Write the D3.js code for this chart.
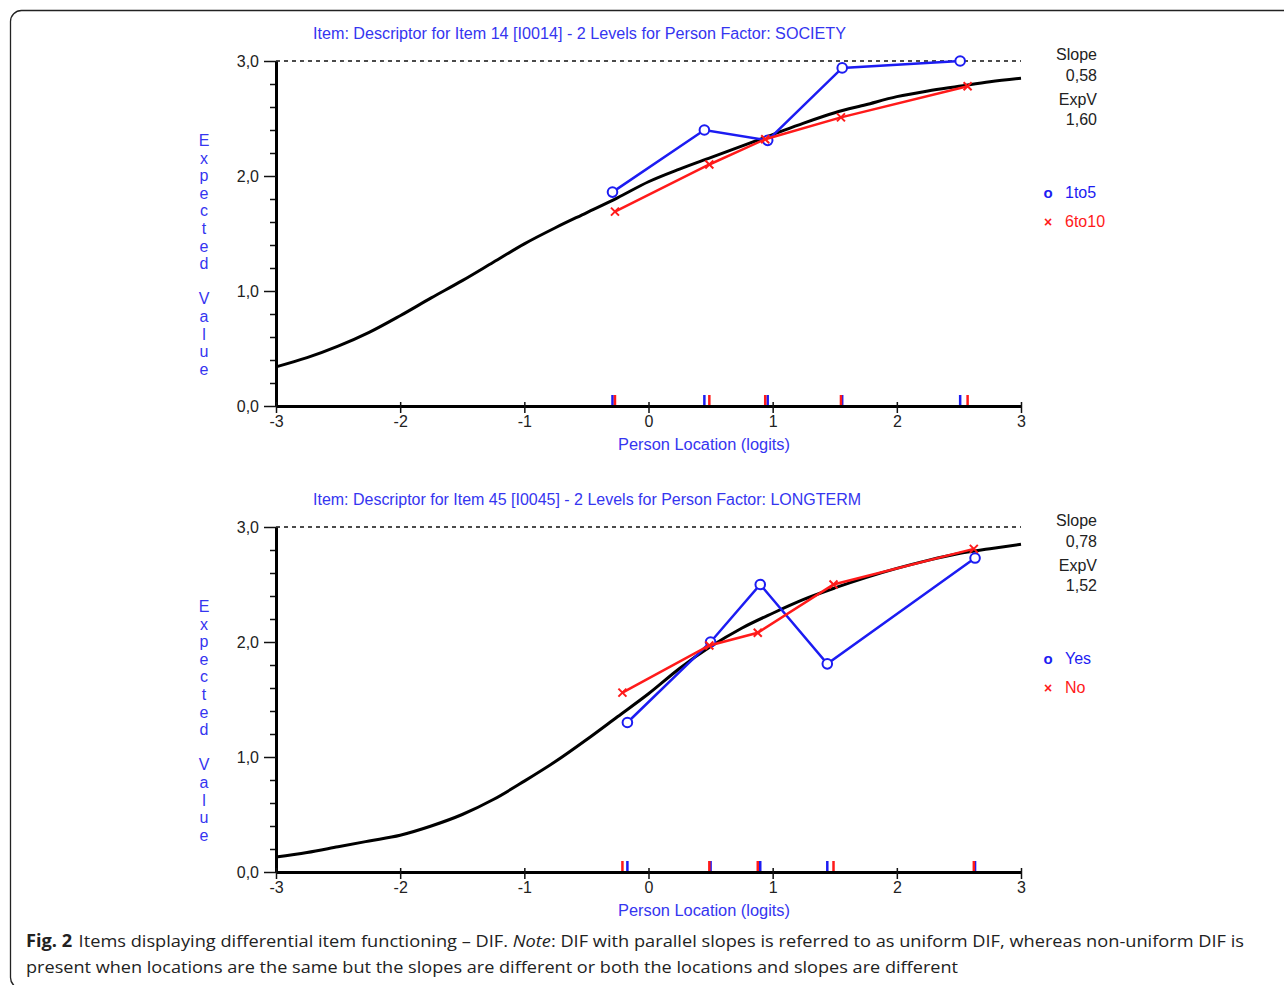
<!DOCTYPE html>
<html>
<head>
  <meta charset="utf-8">
  <title>DIF item plots</title>
  <style>
    body { margin: 0; background: #fff; }
    svg { display: block; }
    .chart text { font-family: "Liberation Sans Narrow", "Liberation Sans", Arial, sans-serif; }
  </style>
</head>
<body>
  <svg width="1284" height="985"></svg>
  <script src="https://d3js.org/d3.v7.min.js"></script>
  <script>
    // ---- data ----
    const xTicks = [-3, -2, -1, 0, 1, 2, 3];
    const yTicks = [0, 1, 2, 3];
    const yTickLabels = ["0,0", "1,0", "2,0", "3,0"];
    const yMinor = [0.2, 0.4, 0.6, 0.8, 1.2, 1.4, 1.6, 1.8, 2.2, 2.4, 2.6, 2.8];

    // expected-value curve, sampled every 0.25 logit
    const iccTheta = [-3, -2.75, -2.5, -2.25, -2, -1.75, -1.5, -1.25, -1, -0.75, -0.5, -0.25, 0,
                      0.25, 0.5, 0.75, 1, 1.25, 1.5, 1.75, 2, 2.25, 2.5, 2.75, 3];
    const icc14 = [0.34, 0.42, 0.52, 0.64, 0.785, 0.94, 1.09, 1.25, 1.41, 1.55, 1.68, 1.81, 1.95,
                   2.06, 2.16, 2.26, 2.36, 2.46, 2.55, 2.62, 2.69, 2.74, 2.78, 2.82, 2.85];
    const icc45 = [0.13, 0.17, 0.22, 0.27, 0.32, 0.40, 0.50, 0.63, 0.79, 0.96, 1.15, 1.35, 1.55,
                   1.77, 1.96, 2.12, 2.25, 2.37, 2.47, 2.56, 2.64, 2.71, 2.77, 2.81, 2.85];

    // item 14, factor SOCIETY
    const soc1to5Loc = [-0.29, 0.45, 0.96, 1.56, 2.51];
    const soc1to5Val = [1.86, 2.40, 2.31, 2.94, 3.00];
    const soc6to10Loc = [-0.27, 0.49, 0.94, 1.55, 2.57];
    const soc6to10Val = [1.69, 2.10, 2.32, 2.51, 2.78];

    // item 45, factor LONGTERM
    const ltYesLoc = [-0.17, 0.50, 0.90, 1.44, 2.63];
    const ltYesVal = [1.30, 2.00, 2.50, 1.81, 2.73];
    const ltNoLoc = [-0.21, 0.49, 0.88, 1.49, 2.62];
    const ltNoVal = [1.56, 1.97, 2.08, 2.50, 2.81];

    const panels = [
      { top: 61, title: "Item: Descriptor for Item 14 [I0014] - 2 Levels for Person Factor: SOCIETY",
        titleLen: 533, icc: icc14, slope: "0,58", expv: "1,60",
        groups: [
          { name: "1to5", loc: soc1to5Loc, val: soc1to5Val, color: "#1c1cf2", sym: "o" },
          { name: "6to10", loc: soc6to10Loc, val: soc6to10Val, color: "#ff1a1a", sym: "x" }
        ] },
      { top: 527, title: "Item: Descriptor for Item 45 [I0045] - 2 Levels for Person Factor: LONGTERM",
        titleLen: 548, icc: icc45, slope: "0,78", expv: "1,52",
        groups: [
          { name: "Yes", loc: ltYesLoc, val: ltYesVal, color: "#1c1cf2", sym: "o" },
          { name: "No", loc: ltNoLoc, val: ltNoVal, color: "#ff1a1a", sym: "x" }
        ] }
    ];

    const svg = d3.select("svg");
    const textBlue = "#3535f0";
    const chartFont = "\"Liberation Sans Narrow\", \"Liberation Sans\", Arial, sans-serif";

    // frame around the figure
    svg.append("rect")
      .attr("x", 10.5).attr("y", 10.5)
      .attr("width", 1300).attr("height", 978)
      .attr("rx", 11)
      .attr("fill", "none").attr("stroke", "#222").attr("stroke-width", 1.3);

    const x = d3.scaleLinear().domain([-3, 3]).range([276, 1021]);

    panels.forEach(p => {
      const g = svg.append("g").attr("class", "chart");
      const y = d3.scaleLinear().domain([0, 3]).range([p.top + 345, p.top]);
      const y0 = y(0);

      // title
      g.append("text")
        .attr("x", 313).attr("y", p.top - 22)
        .attr("textLength", p.titleLen).attr("lengthAdjust", "spacingAndGlyphs")
        .attr("font-size", 16).attr("fill", textBlue)
        .text(p.title);

      // dashed line at max score
      g.append("line")
        .attr("x1", x(-3)).attr("x2", x(3))
        .attr("y1", y(3)).attr("y2", y(3))
        .attr("stroke", "#111").attr("stroke-width", 1.5)
        .attr("stroke-dasharray", "4,4");

      // minor y ticks
      g.append("g")
        .attr("transform", `translate(${x(-3)},0)`)
        .call(d3.axisLeft(y).tickValues(yMinor).tickSize(6).tickFormat(""))
        .call(a => a.select(".domain").remove())
        .call(a => a.selectAll("line").attr("stroke", "#111").attr("stroke-width", 1.5));

      // major y axis
      g.append("g")
        .attr("transform", `translate(${x(-3)},0)`)
        .call(d3.axisLeft(y).tickValues(yTicks).tickSizeInner(12).tickSizeOuter(0).tickPadding(5)
          .tickFormat((d, i) => yTickLabels[i]))
        .call(a => a.select(".domain").attr("stroke", "#000").attr("stroke-width", 3))
        .call(a => a.selectAll("line").attr("stroke", "#111").attr("stroke-width", 1.5))
        .call(a => a.selectAll("text").attr("font-size", 16).attr("fill", "#222")
          .attr("font-family", chartFont));

      // x axis
      g.append("g")
        .attr("transform", `translate(0,${y0})`)
        .call(d3.axisBottom(x).tickValues(xTicks).tickSizeInner(7).tickSizeOuter(0).tickPadding(3)
          .tickFormat(d => String(d)))
        .call(a => a.select(".domain").attr("stroke", "#000").attr("stroke-width", 3))
        .call(a => a.selectAll(".tick line").attr("y1", -4).attr("stroke", "#111").attr("stroke-width", 1.5))
        .call(a => a.selectAll("text").attr("font-size", 16).attr("fill", "#222")
          .attr("font-family", chartFont));

      // x axis title
      g.append("text")
        .attr("x", 704).attr("y", y0 + 44)
        .attr("text-anchor", "middle")
        .attr("font-size", 16).attr("fill", textBlue)
        .attr("textLength", 172).attr("lengthAdjust", "spacingAndGlyphs")
        .text("Person Location (logits)");

      // y axis title, stacked letters
      const yLetters = "Expected Value".split("");
      g.append("g").selectAll("text")
        .data(yLetters)
        .join("text")
        .attr("x", 204)
        .attr("y", (d, i) => p.top + 85 + i * 17.6)
        .attr("text-anchor", "middle")
        .attr("font-size", 16).attr("fill", textBlue)
        .text(d => d);

      // rug marks for class intervals
      p.groups.forEach(gr => {
        g.append("g").selectAll("line")
          .data(gr.loc)
          .join("line")
          .attr("x1", d => x(d)).attr("x2", d => x(d))
          .attr("y1", y0 - 11).attr("y2", y0 - 1)
          .attr("stroke", gr.color).attr("stroke-width", 2.5);
      });

      // expected value curve
      const iccPts = iccTheta.map((t, i) => [t, p.icc[i]]);
      g.append("path")
        .datum(iccPts)
        .attr("d", d3.line().x(d => x(d[0])).y(d => y(d[1])).curve(d3.curveMonotoneX))
        .attr("fill", "none").attr("stroke", "#000").attr("stroke-width", 3);

      // observed class means
      p.groups.forEach(gr => {
        const pts = gr.loc.map((l, i) => [l, gr.val[i]]);
        g.append("path")
          .datum(pts)
          .attr("d", d3.line().x(d => x(d[0])).y(d => y(d[1])))
          .attr("fill", "none").attr("stroke", gr.color).attr("stroke-width", 2.5);
        const m = g.append("g").selectAll("g")
          .data(pts)
          .join("g")
          .attr("transform", d => `translate(${x(d[0])},${y(d[1])})`);
        if (gr.sym === "o") {
          m.append("circle").attr("r", 4.8)
            .attr("fill", "#fff").attr("stroke", gr.color).attr("stroke-width", 2);
        } else {
          m.append("path").attr("d", "M-4,-4L4,4M-4,4L4,-4")
            .attr("stroke", gr.color).attr("stroke-width", 2);
        }
      });

      // slope / ExpV block
      const info = [["Slope", -1], [p.slope, 20], ["ExpV", 44], [p.expv, 64]];
      g.append("g").selectAll("text")
        .data(info)
        .join("text")
        .attr("x", 1097).attr("y", d => p.top + d[1])
        .attr("text-anchor", "end")
        .attr("font-size", 16).attr("fill", "#222")
        .text(d => d[0]);

      // legend
      p.groups.forEach((gr, i) => {
        const ly = p.top + 137 + i * 29;
        g.append("text").attr("x", 1048).attr("y", ly)
          .attr("text-anchor", "middle")
          .attr("font-size", gr.sym === "o" ? 15 : 14).attr("font-weight", "bold")
          .attr("fill", gr.color)
          .text(gr.sym === "o" ? "o" : "×");
        g.append("text").attr("x", 1065).attr("y", ly)
          .attr("font-size", 16).attr("fill", gr.color)
          .text(gr.name);
      });
    });

    // caption
    const cap1 = svg.append("text")
      .attr("x", 26).attr("y", 947)
      .attr("font-family", "\"Open Sans\", \"Noto Sans\", sans-serif")
      .attr("font-size", 17).attr("fill", "#222")
      .attr("textLength", 1218).attr("lengthAdjust", "spacingAndGlyphs");
    cap1.append("tspan").attr("font-weight", "bold").text("Fig. 2");
    cap1.append("tspan").attr("dx", 6).text("Items displaying differential item functioning – DIF. ");
    cap1.append("tspan").attr("font-style", "italic").text("Note");
    cap1.append("tspan").text(": DIF with parallel slopes is referred to as uniform DIF, whereas non-uniform DIF is");

    svg.append("text")
      .attr("x", 26).attr("y", 973)
      .attr("font-family", "\"Open Sans\", \"Noto Sans\", sans-serif")
      .attr("font-size", 17).attr("fill", "#222")
      .attr("textLength", 932).attr("lengthAdjust", "spacingAndGlyphs")
      .text("present when locations are the same but the slopes are different or both the locations and slopes are different");
  </script>
</body>
</html>
